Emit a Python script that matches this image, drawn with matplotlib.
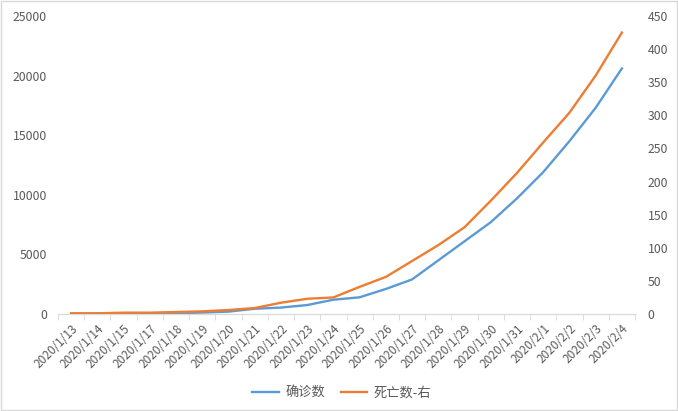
import matplotlib
matplotlib.use('Agg')
import matplotlib.pyplot as plt
import numpy as np

plt.rcParams['font.family'] = ['Noto Sans CJK SC', 'DejaVu Sans']

# data
dates = ['2020/1/13', '2020/1/14', '2020/1/15', '2020/1/17', '2020/1/18', '2020/1/19',
         '2020/1/20', '2020/1/21', '2020/1/22', '2020/1/23', '2020/1/24', '2020/1/25',
         '2020/1/26', '2020/1/27', '2020/1/28', '2020/1/29', '2020/1/30', '2020/1/31',
         '2020/2/1', '2020/2/2', '2020/2/3', '2020/2/4']
confirmed = [41, 41, 41, 45, 62, 121, 198, 440, 540, 750, 1200, 1400,
             2100, 2900, 4500, 6100, 7700, 9700, 11900, 14500, 17300, 20600]
deaths = [1, 1, 2, 2, 3, 4, 6, 9, 17, 23, 25, 41,
          56, 80, 104, 131, 171, 213, 259, 304, 360, 425]

blue = '#5B9BD5'
orange = '#ED7D31'
txt = '#595959'
axcol = '#D9D9D9'

fig = plt.figure(figsize=(6.78, 4.11), dpi=100)
ax1 = fig.add_axes([58 / 678, 1 - 314 / 411, 577 / 678, 298 / 411])
ax2 = ax1.twinx()

x = np.arange(len(dates))
l1, = ax1.plot(x, confirmed, color=blue, lw=1.7, label='确诊数')
l2, = ax2.plot(x, deaths, color=orange, lw=1.7, label='死亡数-右')

ax1.set_xlim(-0.5, len(dates) - 0.5)
ax1.set_ylim(0, 25000)
ax2.set_ylim(0, 450)
ax1.set_yticks(np.arange(0, 25001, 5000))
ax2.set_yticks(np.arange(0, 451, 50))

ax1.set_xticks(x)
ax1.set_xticklabels(dates, rotation=45, ha='right', rotation_mode='anchor', fontsize=8.5, color=txt)
ax1.set_xticks(np.arange(-0.5, len(dates), 1), minor=True)
ax1.tick_params(axis='x', which='major', length=0, pad=6)
ax1.tick_params(axis='x', which='minor', length=4, color=axcol, direction='out')
ax1.tick_params(axis='y', length=0, labelsize=8.8, labelcolor=txt, pad=8)
ax2.tick_params(axis='y', length=0, labelsize=8.8, labelcolor=txt, pad=9)

for a in (ax1, ax2):
    for s in ('top', 'left', 'right'):
        a.spines[s].set_visible(False)
    a.spines['bottom'].set_color(axcol)

fig.legend(handles=[l1, l2], loc='center', bbox_to_anchor=(342 / 678, 1 - 393 / 411),
           ncol=2, frameon=False, fontsize=9.5, labelcolor=txt, handlelength=2.0,
           columnspacing=1.2, handletextpad=0.5)

# thin outer frame like the source
fig.patches.append(plt.Rectangle((0.002, 0.002), 0.996, 0.996, transform=fig.transFigure,
                                 fill=False, edgecolor=axcol, lw=1))

fig.savefig('out.png', dpi=100)
